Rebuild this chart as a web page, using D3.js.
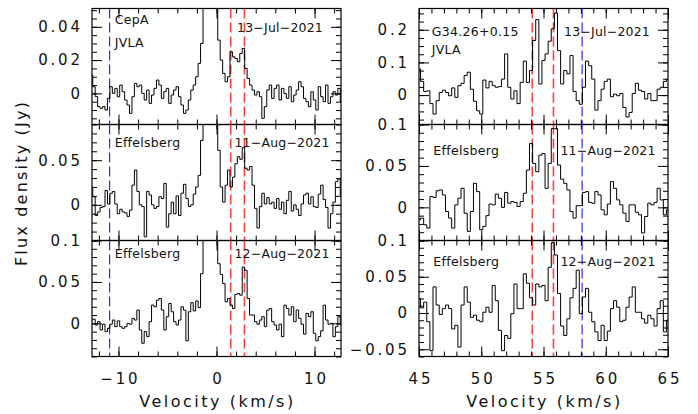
<!DOCTYPE html>
<html>
<head>
<meta charset="utf-8">
<script src="https://cdn.jsdelivr.net/npm/d3@7"></script>
<style>
  body { margin: 0; background: #fff; }
  svg { display: block; font-family: "DejaVu Sans", sans-serif; color: #000; }
</style>
</head>
<body>
<svg id="chart" width="698" height="414"></svg>
<script>
// channel grid of the spectra (km/s): centre of first channel, channel width
var cepaStart = -12.75, cepaStep = 0.25;
var g34Start = 45, g34Step = 0.25;

// CepA spectra (Jy)
var cepaJul13 = [
  0.011, 0.004, -0.002, -0.008, -0.009, -0.008, -0.010, -0.003, 0.004, 0.000,
  0.003, -0.002, 0.005, 0.001, -0.004, -0.007, -0.012, -0.002, 0.006, 0.004,
  0.005, 0.000, -0.004, 0.002, -0.006, -0.001, 0.003, 0.008, 0.005, -0.003,
  0.001, 0.003, -0.006, -0.001, 0.002, 0.004, -0.002, -0.007, -0.012, -0.010,
  -0.004, 0.002, 0.005, 0.010, 0.018, 0.030, 0.060, 0.120, 0.200, 0.260,
  0.220, 0.090, 0.032, 0.020, 0.012, 0.007, 0.010, 0.025, 0.022, 0.021,
  0.019, 0.024, 0.027, 0.015, 0.009, 0.005, 0.002, -0.001, 0.001, -0.002,
  -0.015, -0.008, 0.002, 0.005, -0.003, 0.003, 0.005, -0.004, 0.003, 0.000,
  -0.003, 0.004, -0.005, -0.001, 0.002, 0.007, 0.004, -0.003, -0.005, -0.008,
  0.001, -0.004, -0.010, 0.004, -0.002, -0.005, 0.005, -0.006, -0.002, 0.001,
  -0.001, 0.003, -0.005
];
var cepaAug11 = [
  0.020, 0.009, -0.012, -0.008, -0.003, -0.002, 0.016, 0.001, 0.013, 0.015,
  0.001, -0.010, -0.005, -0.008, -0.009, -0.013, -0.006, 0.022, 0.039, 0.015,
  0.000, -0.002, -0.036, 0.015, 0.011, 0.000, -0.004, -0.002, 0.009, 0.007,
  0.024, -0.025, -0.010, 0.003, -0.010, 0.010, -0.012, 0.013, 0.023, 0.007,
  -0.002, 0.000, 0.012, 0.020, 0.033, 0.072, 0.120, 0.200, 0.250, 0.250,
  0.200, 0.120, 0.061, 0.020, 0.003, 0.022, 0.039, 0.020, 0.031, 0.046,
  0.054, 0.051, 0.064, 0.041, 0.039, 0.043, 0.022, -0.004, -0.026, -0.002,
  0.013, 0.001, 0.008, 0.001, 0.003, -0.004, 0.007, -0.005, 0.003, -0.010,
  0.005, 0.015, -0.007, 0.000, -0.005, -0.012, 0.001, 0.011, 0.013, 0.001,
  0.009, -0.002, -0.003, 0.012, 0.022, 0.006, -0.003, -0.026, -0.010, 0.003,
  0.026, 0.029, 0.009
];
var cepaAug12 = [
  0.004, 0.005, -0.002, 0.002, -0.008, -0.001, -0.010, -0.006, -0.001, 0.004,
  -0.004, 0.003, -0.004, -0.006, -0.004, 0.000, -0.001, 0.006, 0.004, 0.016,
  -0.008, -0.024, -0.010, -0.016, 0.002, 0.022, 0.020, 0.028, 0.030, 0.016,
  -0.008, 0.008, 0.024, 0.014, 0.002, -0.002, 0.004, 0.020, 0.016, -0.021,
  0.014, 0.025, 0.015, 0.027, 0.019, 0.060, 0.140, 0.250, 0.320, 0.320,
  0.250, 0.140, 0.072, 0.059, 0.048, 0.026, 0.030, 0.022, 0.018, 0.035,
  0.036, 0.034, 0.068, 0.064, 0.030, 0.010, 0.010, 0.002, -0.001, 0.004,
  0.008, -0.004, 0.016, 0.018, 0.002, -0.002, -0.008, -0.001, -0.016, 0.022,
  0.018, 0.010, 0.020, 0.002, 0.016, 0.006, -0.001, -0.013, 0.012, 0.008,
  0.014, -0.012, -0.021, -0.016, -0.009, 0.022, 0.004, -0.001, 0.000, -0.016,
  -0.004, 0.008, -0.002
];

// G34.26+0.15 spectra (Jy)
var g34Jul13 = [
  0.080, 0.042, 0.011, 0.013, -0.026, -0.058, -0.017, 0.008, 0.015, 0.008,
  -0.002, 0.022, -0.007, 0.029, 0.036, 0.060, 0.070, 0.018, -0.019, -0.048,
  -0.058, 0.046, 0.022, 0.042, 0.029, 0.024, 0.026, 0.049, 0.126, 0.024,
  -0.012, 0.013, -0.026, 0.039, 0.104, 0.039, 0.075, 0.167, 0.231, 0.034,
  0.106, 0.126, 0.165, 0.203, 0.251, 0.136, 0.034, 0.075, 0.065, 0.121,
  0.011, -0.017, -0.028, 0.024, 0.104, 0.090, 0.049, -0.046, -0.017, 0.018,
  0.042, 0.049, -0.005, 0.003, -0.002, 0.005, -0.038, -0.067, -0.053, 0.005,
  0.036, 0.015, 0.011, -0.012, 0.005, -0.017, -0.017, 0.018, 0.024, 0.042,
  0.049
];
var g34Aug11 = [
  -0.015, -0.013, -0.021, -0.025, 0.013, 0.012, 0.020, 0.021, 0.015, -0.005,
  -0.013, -0.025, 0.003, 0.011, 0.023, -0.007, -0.029, -0.005, 0.029, 0.019,
  -0.027, -0.023, -0.010, 0.004, 0.003, 0.016, 0.011, 0.000, 0.018, 0.005,
  0.007, 0.006, 0.001, 0.007, 0.017, 0.045, 0.077, 0.053, 0.043, 0.063,
  0.065, 0.023, 0.053, 0.095, 0.095, 0.051, 0.034, 0.029, 0.021, -0.005,
  -0.013, 0.002, 0.002, 0.018, 0.019, 0.006, 0.005, 0.019, 0.015, -0.003,
  -0.009, 0.004, 0.031, 0.023, 0.009, 0.003, -0.007, -0.017, 0.003, 0.003,
  -0.006, -0.009, -0.031, -0.011, 0.005, 0.003, 0.006, 0.023, 0.009, -0.009,
  -0.003
];
var g34Aug12 = [
  0.020, 0.007, 0.015, -0.012, -0.052, 0.036, 0.011, -0.002, 0.006, 0.011,
  0.006, -0.022, -0.017, -0.047, 0.011, 0.036, 0.015, -0.006, -0.003, -0.010,
  -0.012, 0.001, 0.008, 0.001, 0.038, 0.017, -0.024, -0.052, -0.031, -0.035,
  -0.001, 0.040, 0.006, 0.006, 0.054, 0.041, 0.021, 0.011, 0.040, 0.036,
  0.038, 0.017, 0.063, 0.097, 0.080, 0.027, -0.018, -0.031, -0.008, 0.021,
  0.034, 0.059, -0.001, 0.022, 0.034, 0.001, -0.012, -0.026, -0.038, -0.017,
  -0.038, -0.025, 0.006, 0.017, 0.008, -0.012, -0.010, 0.008, 0.022, 0.036,
  0.001, 0.001, -0.008, -0.014, -0.003, -0.008, -0.018, 0.006, 0.017, -0.026,
  -0.010
];

var sourceNames = ['CepA', 'G34.26+0.15'];
var telescopes = ['JVLA', 'Effelsberg', 'Effelsberg'];
var dates = ['13\u2212Jul\u22122021', '11\u2212Aug\u22122021', '12\u2212Aug\u22122021'];

// reference velocities (km/s) drawn as dashed lines
var cepaMarkers = [-10.9, 1.45, 2.85];
var cepaMarkerColors = ['#0000ff', '#ff4040', '#ff4040'];
var g34Markers = [54.1, 55.8, 58.1];
var g34MarkerColors = ['#ff4040', '#ff4040', '#0000ff'];

// axes
var cepaXDomain = [-12.7, 12.7], cepaXMajor = 10, cepaXMinor = 2;
var g34XDomain = [45, 65], g34XMajor = 5, g34XMinor = 1;
var cepaYDomains = [[-0.0187, 0.051], [-0.04, 0.09], [-0.04, 0.1]];
var cepaYMajor = [0.02, 0.05, 0.05], cepaYMinor = [0.005, 0.01, 0.01];
var g34YDomains = [[-0.09, 0.265], [-0.04, 0.1], [-0.06, 0.1]];
var g34YMajor = [0.1, 0.05, 0.05], g34YMinor = [0.025, 0.01, 0.01];

// ---- layout ----
var svg = d3.select('#chart');
var rowEdges = [8.5, 124.5, 240.5, 356.5];
var columns = [
  {x0: 92, x1: 341, start: cepaStart, step: cepaStep,
   spectra: [cepaJul13, cepaAug11, cepaAug12],
   xDomain: cepaXDomain, xMajor: cepaXMajor, xMinor: cepaXMinor,
   yDomains: cepaYDomains, yMajor: cepaYMajor, yMinor: cepaYMinor,
   markers: cepaMarkers, markerColors: cepaMarkerColors,
   source: sourceNames[0],
   // label offsets inside each panel: [name x, name y, telescope y, date right, date y]
   labels: [[22.7, 15.5, 38, 18, 23.5], [22.7, 22, 22, 11.3, 22], [22.7, 17.5, 17.5, 11.3, 17.5]]},
  {x0: 419, x1: 668, start: g34Start, step: g34Step,
   spectra: [g34Jul13, g34Aug11, g34Aug12],
   xDomain: g34XDomain, xMajor: g34XMajor, xMinor: g34XMinor,
   yDomains: g34YDomains, yMajor: g34YMajor, yMinor: g34YMinor,
   markers: g34Markers, markerColors: g34MarkerColors,
   source: sourceNames[1],
   labels: [[12.7, 27, 45.5, 18, 27], [14.3, 30, 30, 12.3, 30], [14.3, 25, 25, 12.3, 25]]}
];

function tickRange(domain, step) {
  var out = [];
  var i0 = Math.ceil(domain[0] / step - 1e-6), i1 = Math.floor(domain[1] / step + 1e-6);
  for (var i = i0; i <= i1; i++) out.push(+(i * step).toFixed(6));
  return out;
}

function styleAxis(g) {
  g.select('.domain').remove();
  g.selectAll('.tick line').attr('stroke', '#000').attr('stroke-width', 1);
}

var tickFont = {size: 15, spacing: 2.8};

columns.forEach(function(col, ci) {
  var w = col.x1 - col.x0;
  var x = d3.scaleLinear().domain(col.xDomain).range([0, w]);
  var xMinorTicks = tickRange(col.xDomain, col.xMinor);
  var xMajorTicks = tickRange(col.xDomain, col.xMajor);

  col.spectra.forEach(function(spec, ri) {
    var top = rowEdges[ri], h = rowEdges[ri + 1] - rowEdges[ri];
    var y = d3.scaleLinear().domain(col.yDomains[ri]).range([h, 0]);
    var yMinorTicks = tickRange(col.yDomains[ri], col.yMinor[ri]);
    var yMajorTicks = tickRange(col.yDomains[ri], col.yMajor[ri]);

    var g = svg.append('g').attr('transform', 'translate(' + col.x0 + ',' + top + ')');
    var clipId = 'clip-' + ci + '-' + ri;
    g.append('clipPath').attr('id', clipId)
      .append('rect').attr('width', w).attr('height', h);

    // dashed reference lines
    g.selectAll('line.marker')
        .data(col.markers)
      .enter().append('line')
        .attr('class', 'marker')
        .attr('x1', function(d) { return x(d); })
        .attr('x2', function(d) { return x(d); })
        .attr('y1', 0)
        .attr('y2', h)
        .attr('stroke', function(d, i) { return col.markerColors[i]; })
        .attr('stroke-width', function(d, i) { return col.markerColors[i] === '#0000ff' ? 1 : 1.6; })
        .attr('stroke-dasharray', '10,4');

    // spectrum as histogram steps
    var line = d3.line()
      .x(function(d, i) { return x(col.start + i * col.step); })
      .y(function(d) { return y(d); })
      .curve(d3.curveStep);

    g.append('path')
      .datum(spec)
      .attr('clip-path', 'url(#' + clipId + ')')
      .attr('d', line)
      .attr('fill', 'none')
      .attr('stroke', '#000')
      .attr('stroke-width', 1);

    // inward ticks on all four sides
    g.append('g').attr('transform', 'translate(0,' + h + ')')
      .call(d3.axisBottom(x).tickValues(xMinorTicks).tickSizeInner(-5).tickSizeOuter(0).tickFormat(''))
      .call(styleAxis);
    g.append('g')
      .call(d3.axisTop(x).tickValues(xMinorTicks).tickSizeInner(-5).tickSizeOuter(0).tickFormat(''))
      .call(styleAxis);
    g.append('g').attr('transform', 'translate(0,' + h + ')')
      .call(d3.axisBottom(x).tickValues(xMajorTicks).tickSizeInner(-10).tickSizeOuter(0).tickFormat(''))
      .call(styleAxis);
    g.append('g')
      .call(d3.axisTop(x).tickValues(xMajorTicks).tickSizeInner(-10).tickSizeOuter(0).tickFormat(''))
      .call(styleAxis);

    g.append('g')
      .call(d3.axisLeft(y).tickValues(yMinorTicks).tickSizeInner(-5).tickSizeOuter(0).tickFormat(''))
      .call(styleAxis);
    g.append('g').attr('transform', 'translate(' + w + ',0)')
      .call(d3.axisRight(y).tickValues(yMinorTicks).tickSizeInner(-5).tickSizeOuter(0).tickFormat(''))
      .call(styleAxis);
    g.append('g').attr('transform', 'translate(' + w + ',0)')
      .call(d3.axisRight(y).tickValues(yMajorTicks).tickSizeInner(-10).tickSizeOuter(0).tickFormat(''))
      .call(styleAxis);

    var yAxis = g.append('g')
      .call(d3.axisLeft(y).tickValues(yMajorTicks).tickSizeInner(-10).tickSizeOuter(0)
        .tickPadding(12 - tickFont.spacing).tickFormat(d3.format('~g')))
      .call(styleAxis);
    yAxis.selectAll('.tick text')
      .attr('font-size', tickFont.size)
      .attr('letter-spacing', tickFont.spacing)
      .attr('fill', '#111')
      .attr('font-family', '"DejaVu Sans", sans-serif');

    if (ri === col.spectra.length - 1) {
      var xAxis = g.append('g').attr('transform', 'translate(0,' + h + ')')
        .call(d3.axisBottom(x).tickValues(xMajorTicks).tickSizeInner(0).tickSizeOuter(0)
          .tickPadding(17).tickFormat(d3.format('~g')))
        .call(styleAxis);
      xAxis.selectAll('.tick text')
        .attr('font-size', tickFont.size)
        .attr('letter-spacing', tickFont.spacing)
        .attr('dx', tickFont.spacing / 2)
        .attr('fill', '#111')
        .attr('font-family', '"DejaVu Sans", sans-serif');
    }

    // frame
    g.append('rect')
      .attr('width', w)
      .attr('height', h)
      .attr('fill', 'none')
      .attr('stroke', '#000')
      .attr('stroke-width', 1.2);

    // panel labels
    var lab = col.labels[ri];
    var txt = g.append('g').attr('font-size', 12.5).attr('fill', '#111');
    txt.append('text')
      .attr('x', lab[0]).attr('y', lab[1])
      .attr('letter-spacing', 0.3)
      .text(ri === 0 ? col.source : telescopes[ri]);
    if (ri === 0) {
      txt.append('text')
        .attr('x', lab[0]).attr('y', lab[2])
        .attr('letter-spacing', 0.3)
        .text(telescopes[0]);
    }
    txt.append('text')
      .attr('x', w - lab[3]).attr('y', lab[4])
      .attr('text-anchor', 'end')
      .attr('letter-spacing', 0.2)
      .text(dates[ri]);
  });

  svg.append('text')
    .attr('x', (col.x0 + col.x1) / 2 + 1)
    .attr('y', 406.5)
    .attr('text-anchor', 'middle')
    .attr('font-size', 16)
    .attr('letter-spacing', 2.5)
    .attr('fill', '#111')
    .text('Velocity (km/s)');
});

svg.append('text')
  .attr('transform', 'translate(27,183) rotate(-90)')
  .attr('text-anchor', 'middle')
  .attr('font-size', 16)
  .attr('letter-spacing', 2.2)
  .attr('fill', '#111')
  .text('Flux density (Jy)');
</script>
</body>
</html>
